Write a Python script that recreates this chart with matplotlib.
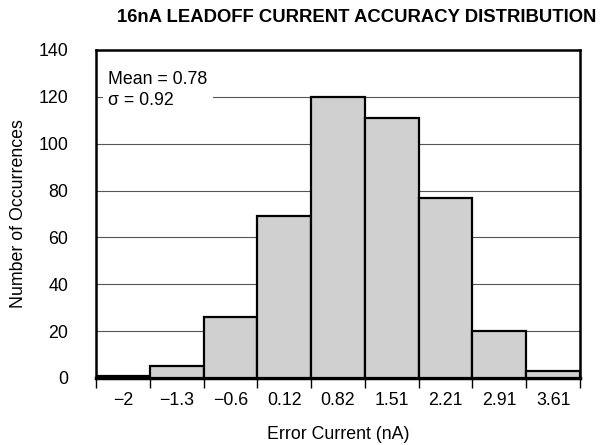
import matplotlib
matplotlib.use("Agg")
import matplotlib.pyplot as plt
import numpy as np

plt.rcParams['font.family'] = ['Liberation Sans', 'DejaVu Sans']

tick_labels = ["\u22122", "\u22121.3", "\u22120.6", "0.12", "0.82", "1.51", "2.21", "2.91", "3.61"]
counts = [1, 5, 26, 69, 120, 111, 77, 20, 3]
y_ticks = [0, 20, 40, 60, 80, 100, 120, 140]

FS = 12.8

fig = plt.figure(figsize=(6.04, 4.45), dpi=100)
ax = fig.add_axes([96/604, 1-378/445, (580-96)/604, (378-50)/445])

x = np.arange(len(counts))
ax.bar(x, counts, width=1.0, color="#d0d0d0", edgecolor="black", linewidth=1.6, zorder=3)

ax.set_xlim(-0.5, len(counts) - 0.5)
ax.set_ylim(0, 140)
ax.set_yticks(y_ticks)
ax.set_yticklabels([str(v) for v in y_ticks], fontsize=FS)
ax.tick_params(axis='y', length=0, pad=20)
ax.set_xticks(x)
ax.set_xticklabels(tick_labels, fontsize=FS)
ax.tick_params(axis='x', which='major', length=0, pad=10)
ax.set_xticks(np.arange(len(counts) + 1) - 0.5, minor=True)
ax.tick_params(axis='x', which='minor', length=7, width=1.0, direction='out')

for v in y_ticks[1:-1]:
    ax.axhline(v, color="#555555", linewidth=0.8, zorder=1)

for s in ax.spines.values():
    s.set_linewidth(1.8)
ax.spines['bottom'].set_linewidth(2.5)

ax.text(0.025, 0.935, "Mean = 0.78\n\u03c3 = 0.92", transform=ax.transAxes, fontsize=FS,
        va='top', ha='left', linespacing=1.3,
        bbox=dict(facecolor='white', edgecolor='none', pad=4), zorder=2)

ax.set_xlabel("Error Current (nA)", fontsize=FS, labelpad=12)
ax.set_ylabel("Number of Occurrences", fontsize=FS, labelpad=8)

fig.text(357/604, 1-18/445, "16nA LEADOFF CURRENT ACCURACY DISTRIBUTION", ha='center', va='center',
         fontsize=13.3, fontweight='bold')

fig.savefig("out.png", dpi=100)
